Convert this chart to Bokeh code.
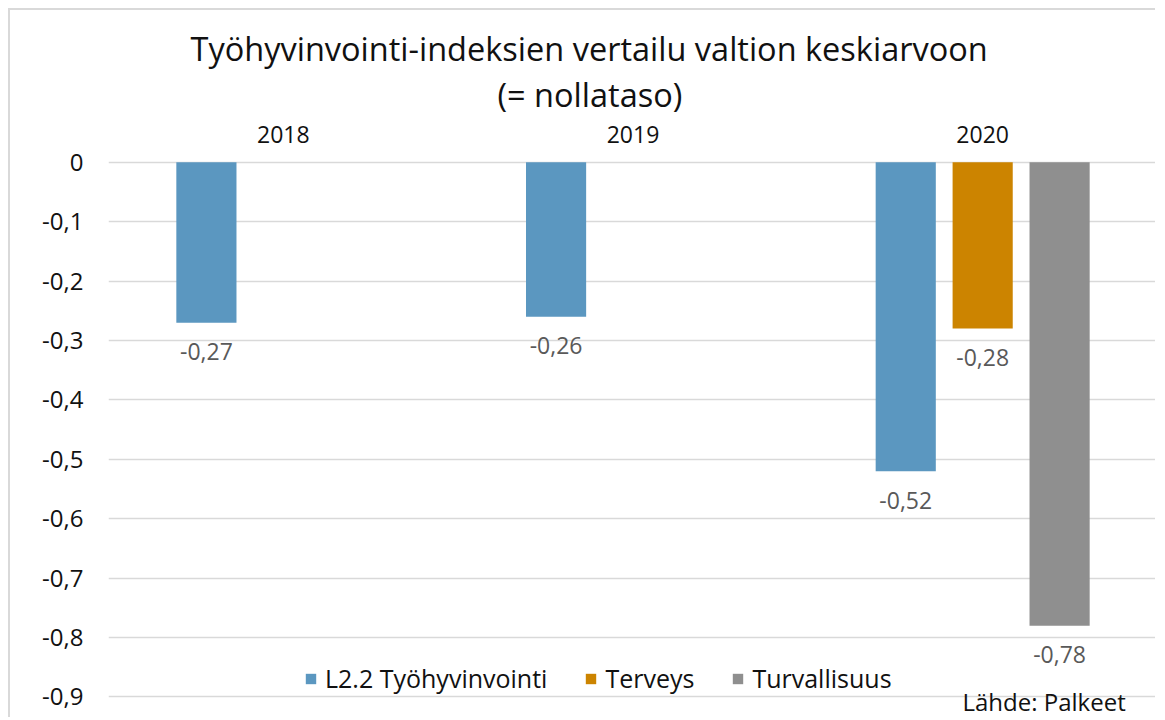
from bokeh.plotting import figure
from bokeh.models import (ColumnDataSource, FactorRange, Range1d, FixedTicker,
                          CustomJSTickFormatter, Title, Label)
from bokeh.transform import dodge
from bokeh.core.properties import value
from bokeh.embed import file_html
from bokeh.resources import INLINE

# ---- data ----
years = ["2018", "2019", "2020"]
series_names = ["L2.2 Työhyvinvointi", "Terveys", "Turvallisuus"]
tyohyvinvointi = [-0.27, -0.26, -0.52]
terveys = [None, None, -0.28]
turvallisuus = [None, None, -0.78]
y_ticks = [0, -0.1, -0.2, -0.3, -0.4, -0.5, -0.6, -0.7, -0.8, -0.9]
title_line1 = "Työhyvinvointi-indeksien  vertailu valtion keskiarvoon"
title_line2 = "(= nollataso)"
source_note = "Lähde: Palkeet"

colors = ["#5B97C0", "#CC8400", "#8F8F8F"]
FONT = "Open Sans"
DARK = "#111111"

p = figure(x_range=FactorRange(*years, range_padding=0),
           y_range=Range1d(-0.938, 0.003),
           width=1147, height=709,
           output_backend="svg", toolbar_location=None,
           x_axis_location="above",
           min_border_left=98, min_border_right=0,
           min_border_top=150, min_border_bottom=0)
p.styles = {"margin-left": "8px", "margin-top": "8px",
            "border-left": "2px solid #d9d9d9", "border-top": "2px solid #d9d9d9"}
p.outline_line_color = None
p.background_fill_color = "white"
p.border_fill_color = "white"

# grid
p.xgrid.grid_line_color = None
p.ygrid.grid_line_color = "#d9d9d9"
p.ygrid.grid_line_width = 1.5

# y axis
p.yaxis.ticker = FixedTicker(ticks=y_ticks)
p.yaxis.formatter = CustomJSTickFormatter(
    code="if (Math.abs(tick) < 1e-9) { return '0'; } return tick.toFixed(1).replace('.', ',');")
p.yaxis.axis_line_color = None
p.yaxis.major_tick_line_color = None
p.yaxis.minor_tick_line_color = None
p.yaxis.major_tick_out = 0
p.yaxis.major_label_standoff = 25
p.yaxis.major_label_text_font = FONT
p.yaxis.major_label_text_font_size = "24px"
p.yaxis.major_label_text_color = DARK

# x axis (years, above)
p.xaxis.axis_line_color = None
p.xaxis.major_tick_line_color = None
p.xaxis.minor_tick_line_color = None
p.xaxis.major_tick_out = 0
p.xaxis.major_label_standoff = 18
p.xaxis.major_label_text_font = FONT
p.xaxis.major_label_text_font_size = "23px"
p.xaxis.major_label_text_color = DARK

# bars
offsets = [-0.22, 0.0, 0.22]
all_values = [tyohyvinvointi, terveys, turvallisuus]
for name, vals, col, off in zip(series_names, all_values, colors, offsets):
    xs = [y for y, v in zip(years, vals) if v is not None]
    vs = [v for v in vals if v is not None]
    src = ColumnDataSource(dict(x=xs, top=vs,
                                label=[f"{v:.2f}".replace(".", ",") for v in vs]))
    p.vbar(x=dodge("x", off, range=p.x_range), top="top", bottom=0, width=0.172,
           source=src, fill_color=col, line_color=None, legend_label=name)
    p.text(x=dodge("x", off, range=p.x_range), y="top", text="label", source=src,
           text_align="center", text_baseline="middle", y_offset=29,
           text_font=value(FONT), text_font_size="23px", text_color="#595959")

# titles
t2 = Title(text=title_line2, align="left", offset=389, text_font=FONT,
           text_font_size="32.5px", text_font_style="normal", text_color=DARK,
           standoff=12)
p.add_layout(t2, "above")
t1 = Title(text=title_line1, align="left", offset=82, text_font=FONT,
           text_font_size="32.5px", text_font_style="normal", text_color=DARK,
           standoff=-14)
p.add_layout(t1, "above")

# legend
p.legend.orientation = "horizontal"
p.legend.location = (196, 24)
p.legend.glyph_width = 13
p.legend.glyph_height = 13
p.legend.label_standoff = 8
p.legend.spacing = 37
p.legend.padding = 0
p.legend.margin = 0
p.legend.border_line_color = None
p.legend.background_fill_alpha = 0
p.legend.label_text_font = FONT
p.legend.label_text_font_size = "25px"
p.legend.label_text_color = DARK

# source note
p.add_layout(Label(x=854, y=18, x_units="screen", y_units="screen", text=source_note,
                   text_font=FONT, text_font_size="24px", text_color=DARK,
                   text_baseline="middle"))

open("out.html", "w").write(file_html(p, INLINE))
